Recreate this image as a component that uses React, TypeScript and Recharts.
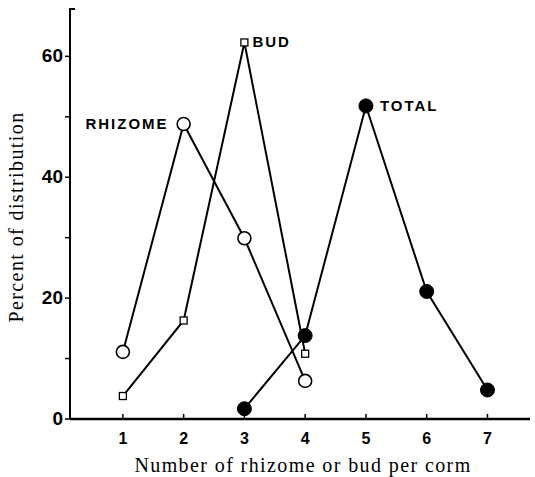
import React from "react";
import { LineChart, Line, XAxis, YAxis } from "recharts";

const xValues = [1, 2, 3, 4, 5, 6, 7];
const rhizome = [11.1, 48.8, 29.9, 6.3, null, null, null];
const bud = [3.8, 16.3, 62.3, 10.8, null, null, null];
const total = [null, null, 1.7, 13.8, 51.8, 21.1, 4.8];
const yTicks = [0, 10, 20, 30, 40, 50, 60, 68];
const yLabelled = [0, 20, 40, 60];
const seriesNames = { rhizome: "RHIZOME", bud: "BUD", total: "TOTAL" };

const data = xValues.map((x, i) => ({
    x,
    rhizome: rhizome[i],
    bud: bud[i],
    total: total[i],
}));

const sans = "'Liberation Sans', Arial, sans-serif";
const serif = "'Liberation Serif', 'Times New Roman', serif";

const OpenCircle = (props: any) => {
    const { cx, cy, value } = props;
    if (value == null || cx == null) return <g />;
    return <circle cx={cx} cy={cy} r={6.5} fill="#fff" stroke="#000" strokeWidth={1.6} />;
};

const OpenSquare = (props: any) => {
    const { cx, cy, value } = props;
    if (value == null || cx == null) return <g />;
    return <rect x={cx - 3.5} y={cy - 3.5} width={7} height={7} fill="#fff" stroke="#000" strokeWidth={1.3} />;
};

const FilledCircle = (props: any) => {
    const { cx, cy, value } = props;
    if (value == null || cx == null) return <g />;
    return <circle cx={cx} cy={cy} r={7} fill="#000" stroke="#000" />;
};

// name tag next to the peak point of each series
const peakLabel = (name: string, at: number, dx: number, anchor: string) => (props: any) => {
    const { x, y, index } = props;
    if (index !== at) return <g />;
    return (
        <text x={x + dx} y={y + 5} textAnchor={anchor} fontFamily={sans} fontWeight="bold" fontSize={15} letterSpacing={2} fill="#000">
            {name}
        </text>
    );
};

const YTick = (props: any) => {
    const { x, y, payload } = props;
    const v = payload.value;
    if (v === 68) {
        // little flag at the top end of the axis
        return <line x1={x} y1={y} x2={x + 5} y2={y} stroke="#000" strokeWidth={2} />;
    }
    return (
        <g>
            <line x1={x - 5} y1={y} x2={x} y2={y} stroke="#000" strokeWidth={1.5} />
            {yLabelled.includes(v) && (
                <text x={x - 7} y={y + 6} textAnchor="end" fontFamily={sans} fontWeight="bold" fontSize={19} fill="#000">
                    {v}
                </text>
            )}
        </g>
    );
};

const XTick = (props: any) => {
    const { x, y, payload } = props;
    return (
        <g>
            <line x1={x} y1={y} x2={x} y2={y - 5} stroke="#000" strokeWidth={1.5} />
            <text x={x} y={y + 25} textAnchor="middle" fontFamily={sans} fontWeight="bold" fontSize={16} fill="#000">
                {payload.value}
            </text>
        </g>
    );
};

export default function App() {
    return (
        <div style={{ position: "absolute", left: 0, top: 0, background: "#fff" }}>
            <LineChart width={535} height={477} data={data} margin={{ top: 8, right: 5, left: 0, bottom: 0 }}>
                <XAxis
                    dataKey="x"
                    type="number"
                    domain={[0.13, 7.7]}
                    ticks={xValues}
                    allowDataOverflow
                    height={58}
                    tickSize={0}
                    tickMargin={0}
                    tick={<XTick />}
                    axisLine={{ stroke: "#000", strokeWidth: 2.5 }}
                    label={{
                        content: (p: any) => (
                            <text x={303} y={472} textAnchor="middle" fontFamily={serif} fontSize={20} letterSpacing={1.4} fill="#000">
                                Number of rhizome or bud per corm
                            </text>
                        ),
                    }}
                />
                <YAxis
                    type="number"
                    domain={[0, 68]}
                    ticks={yTicks}
                    allowDataOverflow
                    width={70}
                    tickSize={0}
                    tickMargin={0}
                    tick={<YTick />}
                    axisLine={{ stroke: "#000", strokeWidth: 2 }}
                    label={{
                        content: (p: any) => (
                            <text x={23} y={217} transform="rotate(-90 23 217)" textAnchor="middle" fontFamily={serif} fontSize={20} letterSpacing={1.4} fill="#000">
                                Percent of distribution
                            </text>
                        ),
                    }}
                />
                <Line dataKey="rhizome" stroke="#000" strokeWidth={2} dot={<OpenCircle />} label={peakLabel(seriesNames.rhizome, 1, -15, "end")} isAnimationActive={false} />
                <Line dataKey="bud" stroke="#000" strokeWidth={2} dot={<OpenSquare />} label={peakLabel(seriesNames.bud, 2, 8, "start")} isAnimationActive={false} />
                <Line dataKey="total" stroke="#000" strokeWidth={2} dot={<FilledCircle />} label={peakLabel(seriesNames.total, 4, 14, "start")} isAnimationActive={false} />
            </LineChart>
        </div>
    );
}
